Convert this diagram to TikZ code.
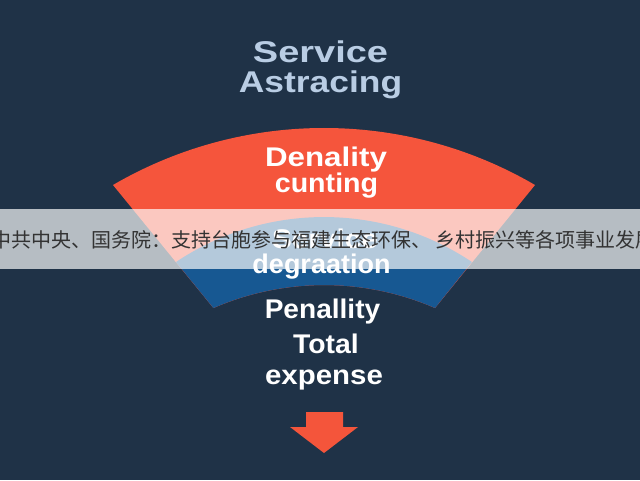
\documentclass[tikz,border=0pt]{standalone}
\usepackage{fontspec}
\setmainfont{Liberation Sans}
\newfontfamily\cjkfont{Noto Sans CJK SC}
\usepackage{graphicx}
\definecolor{navy}{HTML}{1F3247}
\definecolor{fanred}{HTML}{F5553C}
\definecolor{fanblue}{HTML}{175892}
\definecolor{titleblue}{HTML}{B9CDE4}
\definecolor{arrowred}{HTML}{F4553B}
\definecolor{cjkgray}{HTML}{333333}
\begin{document}
\begin{tikzpicture}[x=1pt,y=1pt,
  lbl/.style={text=white,inner sep=0pt,anchor=base,font=\fontsize{27}{27}\selectfont\bfseries},
  ttl/.style={text=titleblue,inner sep=0pt,anchor=base,font=\fontsize{30}{30}\selectfont\bfseries},
  banner/.style={fill=white,opacity=0.68},
  news/.style={anchor=west,inner sep=0pt,text=cjkgray,font=\cjkfont\fontsize{20}{20}\selectfont}]
\fill[navy] (0,0) rectangle (640,480);
\useasboundingbox (0,0) rectangle (640,480);
% title
\node[ttl] (t1) at (320.5,417) {\scalebox{1.265}[1]{Service}};
\node[ttl] (t2) at (320.5,387) {\scalebox{1.18}[1]{Astracing}};
% fan: red covers the whole fan, blue band on top
\fill[fanred] (113,295) arc[start angle=120.24,end angle=59.76,radius=419]
  -- (435,172) arc[start angle=66.6,end angle=113.4,radius=279] -- cycle;
\fill[fanblue] (176,218) arc[start angle=123.8,end angle=56.2,radius=266]
  -- (435,172) arc[start angle=66.6,end angle=113.4,radius=279] -- cycle;
% band labels
\node[lbl] (l1) at (326,313) {\scalebox{1.16}[1]{Denality}};
\node[lbl] (l2) at (326.5,287) {\scalebox{1.06}[1]{cunting}};
\node[lbl] (l3) at (325,232) {\scalebox{1.1}[1]{Service}};
\node[lbl] (l4) at (321.5,207) {degraation};
% banner
\begin{scope}
\clip (0,0) rectangle (640,480);
\fill[banner] (0,211) rectangle (640,271);
\node[news] (n1) at (-9,240) {中共中央、国务院：支持台胞参与福建生态环保、 乡村振兴等各项事业发展};
\end{scope}
% lower labels
\node[lbl] (l5) at (322.5,162) {\scalebox{1.04}[1]{Penallity}};
\node[lbl] (l6) at (326,127) {\scalebox{1.05}[1]{Total}};
\node[lbl] (l7) at (324,96) {\scalebox{1.09}[1]{expense}};
% arrow
\fill[arrowred] (306,68) -- (343,68) -- (343,53) -- (358,53) -- (324,27) -- (290,53) -- (306,53) -- cycle;
\end{tikzpicture}
\end{document}
